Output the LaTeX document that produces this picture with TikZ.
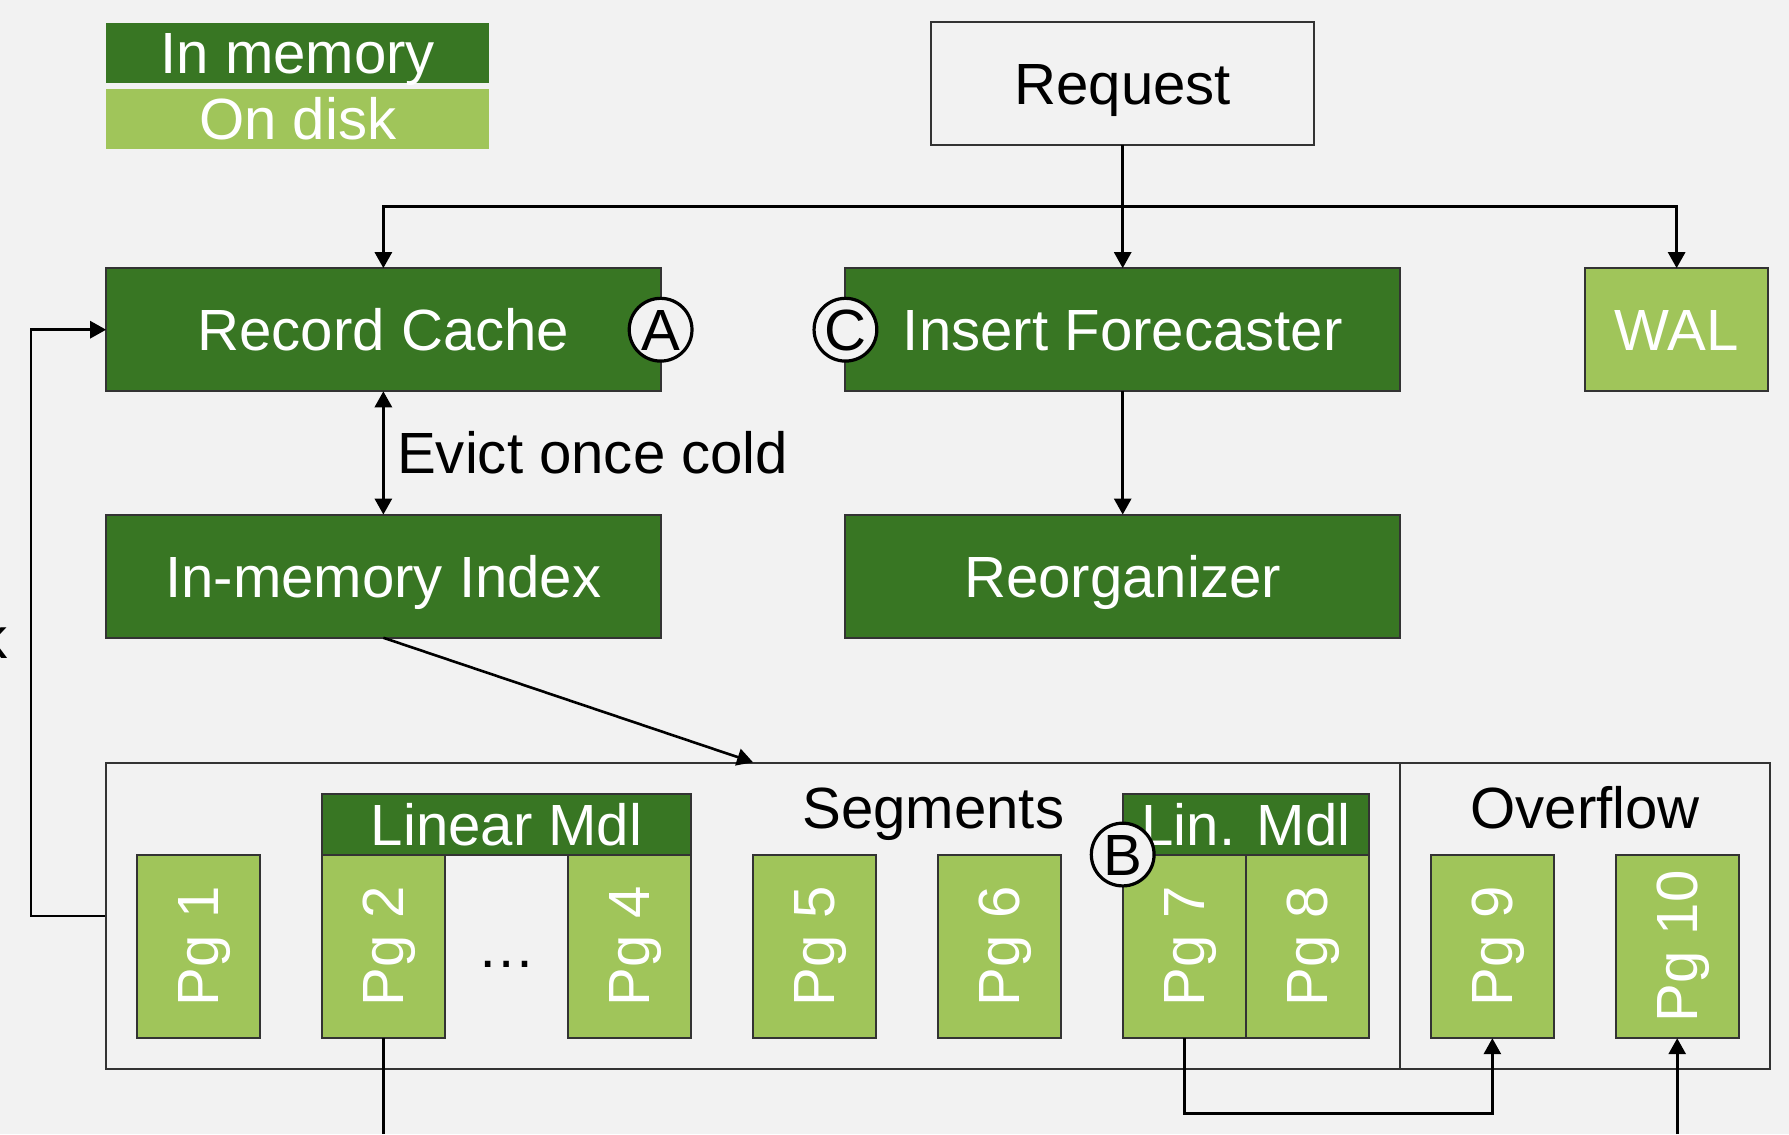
\documentclass[tikz,border=0pt]{standalone}
\usepackage{fontspec}
\setmainfont{Liberation Sans}
\definecolor{MemGreen}{RGB}{56,118,35}
\definecolor{DiskGreen}{RGB}{160,197,90}
\definecolor{PaperGray}{RGB}{242,242,242}
\definecolor{EdgeGray}{RGB}{51,51,51}
\usepackage{tikz}
\usetikzlibrary{
    arrows.meta,
    positioning,
    fit,
    calc
}
\newcommand{\pgtext}[1]{\rotatebox{90}{\vphantom{P}\smash{Pg #1}}}

\begin{document}
\begin{tikzpicture}[
    node distance=0.54cm and 0.54cm,
    font=\fontsize{14.5pt}{17pt}\selectfont,
%
    capped/.style={
        text height=10.4pt,
        text depth=0pt
    },
%
    box/.style={
        draw=EdgeGray,
        line width=0.5pt,
        outer sep=0pt,
        text=white
    },
%
    mem/.style={
        box,
        capped,
        fill=MemGreen,
        minimum width=4.86cm,
        minimum height=1.08cm
    },
%
    disk/.style={
        box,
        capped,
        fill=DiskGreen,
        minimum width=1.61cm,
        minimum height=1.08cm
    },
%
    pagebox/.style={
        box,
        fill=DiskGreen,
        minimum width=1.08cm,
        minimum height=1.61cm,
        inner sep=0pt
    },
%
    model/.style={
        box,
        capped,
        fill=MemGreen,
        minimum height=0.53cm,
        inner sep=0pt
    },
%
    request/.style={
        draw=EdgeGray,
        capped,
        line width=0.5pt,
        outer sep=0pt,
        minimum width=3.36cm,
        minimum height=1.08cm
    },
%
    legend/.style={
        capped,
        text=white,
        inner sep=0pt,
        minimum width=3.36cm
    },
%
    marker/.style={
        circle,
        capped,
        draw=black,
        fill=PaperGray,
        line width=0.8pt,
        minimum size=0.55cm,
        inner sep=0pt
    },
%
    plain/.style={
        capped,
        inner sep=0pt
    },
%
    arrow/.style={
        -{Triangle[length=1.4mm,width=1.5mm]},
        line width=0.65pt
    },
%
    group/.style={
        draw=EdgeGray,
        line width=0.5pt,
        inner sep=0.27cm
    }
]
\useasboundingbox[fill=PaperGray] (0,0) rectangle (15.68,9.94);
%
% Legend
%
\node[
    legend,
    fill=MemGreen,
    minimum height=0.53cm
] (lmem) at (2.61,9.475) {In memory};
%
\node[
    legend,
    fill=DiskGreen,
    minimum height=0.52cm,
    below=0.04cm of lmem
] (ldisk) {On disk};
%
% Request and first row
%
\node[mem] (cache) at (3.36,7.05) {Record Cache};
%
\node[
    mem,
    right=1.62cm of cache
] (forecast) {Insert Forecaster};
%
\node[
    disk,
    right=1.62cm of forecast
] (wal) {WAL};
%
\node[
    request,
    above=1.08cm of forecast
] (request) {Request};
%
\node[marker] (marka) at (cache.east) {A};
\node[marker] (markc) at (forecast.west) {C};
%
% Second row
%
\node[
    mem,
    below=1.08cm of cache
] (index) {In-memory Index};
%
\node[
    mem,
    below=1.08cm of forecast
] (reorg) {Reorganizer};
%
\coordinate (split) at ($(request.south)!0.5!(forecast.north)$);
\draw[arrow] (request) -- (forecast);
\draw[arrow] (split) -| (cache.north);
\draw[arrow] (split) -| (wal.north);
\draw[
    arrow,
    {Triangle[length=1.4mm,width=1.5mm]}-{Triangle[length=1.4mm,width=1.5mm]}
] (cache) -- node[plain, right=0.11cm] (evict) {Evict once cold} (index);
\draw[arrow] (forecast) -- (reorg);
%
% Pages
%
\node[pagebox] (pg1) at (1.74,1.645) {\pgtext{1}};
\node[pagebox, right=of pg1] (pg2) {\pgtext{2}};
\node[pagebox, right=1.08cm of pg2] (pg4) {\pgtext{4}};
\node[pagebox, right=of pg4] (pg5) {\pgtext{5}};
\node[pagebox, right=of pg5] (pg6) {\pgtext{6}};
\node[pagebox, right=of pg6] (pg7) {\pgtext{7}};
\node[pagebox, right=0cm of pg7] (pg8) {\pgtext{8}};
\node[pagebox, right=of pg8] (pg9) {\pgtext{9}};
\node[pagebox, right=of pg9] (pg10) {\pgtext{10}};
%
\node[plain] (dots) at ($(pg2.east)!0.5!(pg4.west)$) {\dots};
%
% Models on top of the pages
%
\node[
    model,
    minimum width=3.24cm,
    above right=0cm and 0cm of pg2.north west
] (linmdl) {Linear Mdl};
%
\node[
    model,
    minimum width=2.16cm,
    above right=0cm and 0cm of pg7.north west
] (linmdlb) {Lin. Mdl};
%
\node[marker] (markb) at (pg7.north west) {B};
%
% Segments and overflow area
%
\node[
    group,
    fit=(pg1)(pg10)(linmdl)
] (outer) {};
%
\coordinate (divide) at ($(pg8.east)!0.5!(pg9.west)$);
\draw[EdgeGray, line width=0.5pt] (divide |- outer.north) -- (divide |- outer.south);
%
\node[plain, anchor=base] (seglbl) at (8.18,2.68) {Segments};
\node[plain, anchor=base] (ovflbl) at ($(divide |- 0,2.68)!0.5!(outer.east |- 0,2.68)$) {Overflow};
%
\draw[arrow] (index.south) -- (pg5.north west |- outer.north);
\draw[arrow] (outer.west) -- ++(-0.65,0) |- (cache.west);
\node[plain, anchor=base east] (backlbl) at (0.07,4.17) {k};
%
% Links leaving the pages
%
\coordinate (pgout) at (pg2.south |- 0,0);
\coordinate (pgin) at (pg10.south |- 0,0);
\draw[line width=0.65pt] (pg2.south) -- (pgout);
\draw[arrow] (pg7.south) -- ++(0,-0.66) -| (pg9.south);
\draw[arrow] (pgin) -- (pg10.south);
%
\end{tikzpicture}
\end{document}
